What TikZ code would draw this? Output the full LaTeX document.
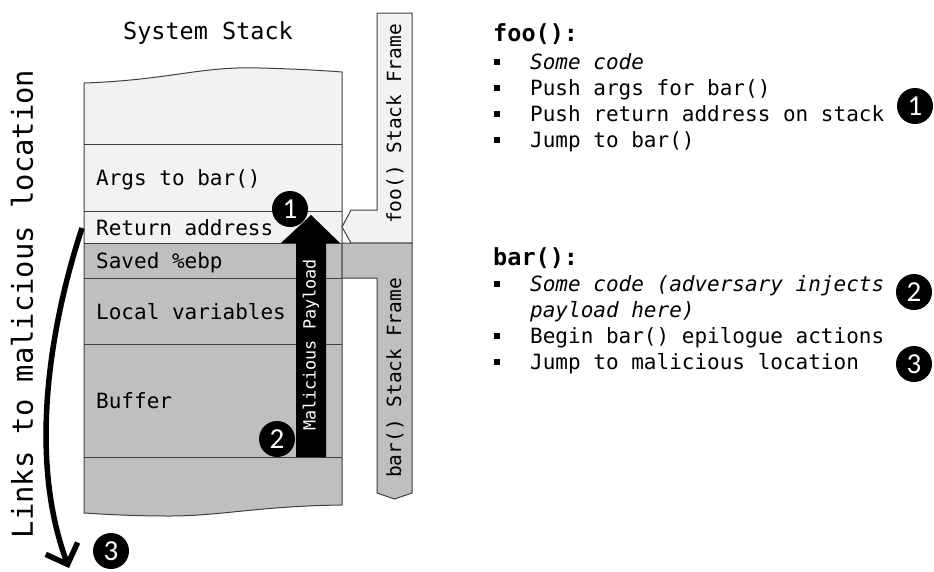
\documentclass[tikz,border=0pt]{standalone}
\usepackage{fontspec}
\setmonofont{DejaVu Sans Mono}
\newfontfamily\digitfont{Carlito}
\usetikzlibrary{arrows.meta,calc}
\definecolor{framelight}{HTML}{F2F2F2}
\definecolor{framedark}{HTML}{BFBFBF}
\definecolor{edgegray}{HTML}{404040}

\begin{document}
\begin{tikzpicture}[x=1pt,y=1pt]
	\tikzstyle{every node}+=[inner sep=0pt]
	\tikzstyle{cell}=[draw=edgegray, line width=1pt]
	\tikzstyle{rowtext}=[anchor=base west, font=\ttfamily\fontsize{21}{25}\selectfont]
	\tikzstyle{headtext}=[anchor=base west, font=\ttfamily\bfseries\fontsize{23.5}{28}\selectfont]
	\tikzstyle{sidetext}=[rotate=90, font=\ttfamily\fontsize{19.5}{22}\selectfont]
	\tikzstyle{bullet}=[fill=black, minimum size=5.5pt]
	\tikzstyle{num}=[circle, fill=black, minimum size=36pt, text=white, font=\digitfont\fontsize{29}{29}\selectfont]
	\useasboundingbox (0,0) rectangle (934,-571);

	% stack with wavy top and bottom
	\fill [framelight] (84,-83) .. controls (170,-80) and (200,-66) .. (260,-68) .. controls (300,-69) and (330,-71) .. (342,-72) -- (342,-243) -- (84,-243) -- cycle;
	\fill [framedark] (84,-243) -- (342,-243) -- (342,-505) .. controls (260,-506) and (220,-516) .. (170,-516) .. controls (130,-516) and (100,-514) .. (84,-513) -- cycle;
	\draw [cell] (84,-83) .. controls (170,-80) and (200,-66) .. (260,-68) .. controls (300,-69) and (330,-71) .. (342,-72) -- (342,-505) .. controls (260,-506) and (220,-516) .. (170,-516) .. controls (130,-516) and (100,-514) .. (84,-513) -- cycle;
	\foreach \y in {144,211,243,278,344,457}
		\draw [cell] (84,-\y) -- (342,-\y);
	\node [font=\ttfamily\fontsize{23.5}{28}\selectfont] (title) at (208,-33) {System Stack};
	\node [rowtext] (args) at (96,-185) {Args to bar()};
	\node [rowtext] (retaddr) at (96,-235) {Return address};
	\node [rowtext] (savedbp) at (96,-268) {Saved \%ebp};
	\node [rowtext] (locals) at (96,-319) {Local variables};
	\node [rowtext] (buffer) at (96,-408) {Buffer};

	% frame brackets
	\draw [cell, fill=framelight] (377,-13) -- (412,-13) -- (412,-243) -- (351,-243) -- (342,-227) -- (351,-210) -- (377,-210) -- cycle;
	\draw [cell, fill=framedark] (342,-243) -- (412,-243) -- (412,-493) -- (394.5,-499) -- (377,-493) -- (377,-278) -- (342,-278) -- cycle;
	\node [sidetext] (fooframe) at (395,-124) {foo() Stack Frame};
	\node [sidetext] (barframe) at (395,-378) {bar() Stack Frame};

	% payload arrow
	\coordinate (plbase) at (311,-457);
	\coordinate (pltip) at (311,-215);
	\fill [black] ($(plbase)+(-15,0)$) -- ($(plbase)+(15,0)$) -- ($(pltip)+(15,-28)$) -- ($(pltip)+(29,-28)$) -- (pltip) -- ($(pltip)+(-30,-28)$) -- ($(pltip)+(-15,-28)$) -- cycle;
	\node [rotate=90, text=white, font=\ttfamily\fontsize{16.8}{20}\selectfont] (payload) at (311,-345) {Malicious Payload};

	% jump out of the stack
	\coordinate (jumpfrom) at (82,-228);
	\coordinate (jumpto) at (69,-568);
	\draw [line width=5.5pt, -{Straight Barb[length=17pt,width=34pt]}] (jumpfrom) .. controls (55,-310) and (25,-450) .. (jumpto);
	\node [rotate=90, font=\ttfamily\fontsize{28.8}{32}\selectfont] (links) at (22,-304) {Links to malicious location};

	\node [num] (stepone) at (290,-209) {1};
	\node [num] (steptwo) at (277,-439) {2};
	\node [num] (stepthree) at (111,-551) {3};

	% foo() steps
	\node [headtext] (foohead) at (493,-41) {foo():};
	\foreach \y in {62,88,114,140}
		\node [bullet] at (497,-\y) {};
	\node [rowtext] (foo1) at (530,-69) {\itshape Some code};
	\node [rowtext] (foo2) at (530,-95) {Push args for bar()};
	\node [rowtext] (foo3) at (530,-121) {Push return address on stack};
	\node [rowtext] (foo4) at (530,-147) {Jump to bar()};
	\node [num] (fooone) at (915,-106) {1};

	% bar() steps
	\node [headtext] (barhead) at (493,-265) {bar():};
	\foreach \y in {284,336,362}
		\node [bullet] at (497,-\y) {};
	\node [rowtext] (bar1) at (530,-291) {\itshape Some code (adversary injects};
	\node [rowtext] (bar2) at (530,-317) {\itshape payload here)};
	\node [rowtext] (bar3) at (530,-343) {Begin bar() epilogue actions};
	\node [rowtext] (bar4) at (530,-369) {Jump to malicious location};
	\node [num] (bartwo) at (914,-292) {2};
	\node [num] (barthree) at (914,-364) {3};
\end{tikzpicture}
\end{document}
